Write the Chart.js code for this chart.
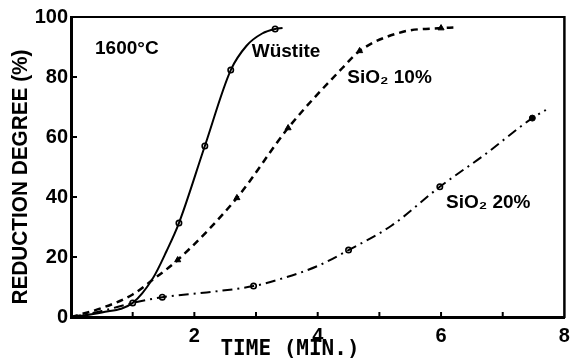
<!DOCTYPE html>
<html>
<head>
<meta charset="utf-8">
<script src="https://cdn.jsdelivr.net/npm/chart.js@4"></script>
<style>
html,body{margin:0;padding:0;background:#fff;}
#wrap{width:570px;height:362px;}
</style>
</head>
<body>
<div id="wrap"><canvas id="c" width="570" height="362"></canvas></div>
<script>
// ---- Data ----
const xTickLabels = [2, 4, 6, 8];
const yTickLabels = [0, 20, 40, 60, 80, 100];

// Wüstite (solid line, open circles)
const wusCurveX = [0, 0.5, 1.0, 1.33, 1.55, 1.75, 2.17, 2.59, 2.85, 3.1, 3.31, 3.43];
const wusCurveY = [0, 1.5, 4.7, 13, 22, 31.3, 57, 82.3, 90.5, 94.5, 96, 96.3];
const wusPtsX = [1.0, 1.75, 2.17, 2.59, 3.31];
const wusPtsY = [4.7, 31.3, 57, 82.3, 96];

// SiO2 10% (dashed line, filled triangles)
const s10CurveX = [0, 0.5, 1.0, 1.33, 1.73, 2.69, 3.52, 4.4, 4.68, 5.37, 6.0, 6.2];
const s10CurveY = [0, 3, 7.5, 12.5, 19, 39.7, 63, 83, 88.7, 95, 96.3, 96.5];
const s10PtsX = [1.73, 2.69, 3.52, 4.68, 6.0];
const s10PtsY = [19, 39.7, 63, 88.7, 96.3];

// SiO2 20% (dash-dot line, open circles, last one filled)
const s20CurveX = [0, 0.5, 1.0, 1.48, 2.2, 2.96, 3.4, 4.0, 4.5, 5.2, 5.98, 6.7, 7.48, 7.7];
const s20CurveY = [0, 2, 4.7, 6.6, 8.2, 10.3, 12.7, 17, 22.3, 30.5, 43.4, 54, 66.3, 69];
const s20PtsX = [1.48, 2.96, 4.5, 5.98];
const s20PtsY = [6.6, 10.3, 22.3, 43.4];
const s20FilledX = [7.48];
const s20FilledY = [66.3];

// Annotations (text, data x of left edge, data y of centre)
const noteText = ["1600°C", "Wüstite", "SiO₂ 10%", "SiO₂ 20%"];
const noteX = [0.39, 2.93, 4.48, 6.08];
const noteY = [89.3, 88.3, 79.7, 38];

const xTitle = "TIME (MIN.)";
const yTitle = "REDUCTION DEGREE (%)";

function pts(xs, ys){ return xs.map((x,i)=>({x:x, y:ys[i]})); }

const FONT = "'Liberation Sans', Arial, sans-serif";

const decor = {
  id: 'decor',
  afterDraw(chart){
    const ctx = chart.ctx, a = chart.chartArea;
    const xs = chart.scales.x, ys = chart.scales.y;
    ctx.save();
    ctx.strokeStyle = '#000';
    // frame top and right
    ctx.lineWidth = 2;
    ctx.beginPath(); ctx.moveTo(a.left, a.top); ctx.lineTo(a.right, a.top); ctx.stroke();
    ctx.lineWidth = 2.5;
    ctx.beginPath(); ctx.moveTo(a.right, a.top-1); ctx.lineTo(a.right, a.bottom+1); ctx.stroke();
    // inward ticks
    ctx.lineWidth = 2;
    for (let v = 1; v < 8; v++){
      const px = xs.getPixelForValue(v);
      ctx.beginPath(); ctx.moveTo(px, a.bottom); ctx.lineTo(px, a.bottom-5); ctx.stroke();
    }
    for (let v = 20; v < 100; v += 20){
      const py = ys.getPixelForValue(v);
      ctx.beginPath(); ctx.moveTo(a.left, py); ctx.lineTo(a.left+6, py); ctx.stroke();
    }
    // annotations
    ctx.fillStyle = '#000';
    ctx.font = "bold 19px " + FONT;
    ctx.textAlign = 'left'; ctx.textBaseline = 'middle';
    noteText.forEach((t,i)=>{
      ctx.fillText(t, xs.getPixelForValue(noteX[i]), ys.getPixelForValue(noteY[i]));
    });
    // x title
    ctx.font = "bold 21px 'DejaVu Sans Mono', monospace";
    ctx.textAlign = 'center';
    ctx.fillText(xTitle, 290, 350);
    // y title (condensed)
    ctx.font = "bold 22px " + FONT;
    const w = ctx.measureText(yTitle).width;
    ctx.translate(21, 177);
    ctx.rotate(-Math.PI/2);
    ctx.scale(255 / w, 1);
    ctx.fillText(yTitle, 0, 0);
    ctx.restore();
  }
};

new Chart(document.getElementById('c'), {
  type: 'line',
  data: {
    datasets: [
      { data: pts(wusCurveX, wusCurveY), borderColor:'#000', borderWidth:2, pointRadius:0, cubicInterpolationMode:'monotone', fill:false },
      { data: pts(s10CurveX, s10CurveY), borderColor:'#000', borderWidth:2.5, borderDash:[7,5], pointRadius:0, cubicInterpolationMode:'monotone', fill:false },
      { data: pts(s20CurveX, s20CurveY), borderColor:'#000', borderWidth:2, borderDash:[10,5,2,5], pointRadius:0, cubicInterpolationMode:'monotone', fill:false },
      { data: pts(wusPtsX, wusPtsY), showLine:false, pointStyle:'circle', pointRadius:2.7, pointBorderWidth:1.6, pointBorderColor:'#000', pointBackgroundColor:'#fff' },
      { data: pts(s10PtsX, s10PtsY), showLine:false, pointStyle:'triangle', pointRadius:3.5, pointBorderWidth:1, pointBorderColor:'#000', pointBackgroundColor:'#000' },
      { data: pts(s20PtsX, s20PtsY), showLine:false, pointStyle:'circle', pointRadius:2.7, pointBorderWidth:1.6, pointBorderColor:'#000', pointBackgroundColor:'#fff' },
      { data: pts(s20FilledX, s20FilledY), showLine:false, pointStyle:'circle', pointRadius:3, pointBorderWidth:1, pointBorderColor:'#000', pointBackgroundColor:'#000' }
    ]
  },
  options: {
    responsive:false, animation:false, devicePixelRatio:1,
    layout:{ padding:{ top:17, right:5, left:0, bottom:0 } },
    plugins:{ legend:{display:false}, tooltip:{enabled:false}, title:{display:false} },
    scales:{
      x:{
        type:'linear', min:0, max:8,
        grid:{ display:false, drawTicks:false },
        border:{ display:true, color:'#000', width:3 },
        ticks:{ stepSize:1, padding:7, color:'#000', font:{ family:FONT, size:20, weight:'bold' },
          callback:(v)=> xTickLabels.includes(v) ? String(v) : '' , maxRotation:0, autoSkip:false },
        afterFit:(s)=>{ s.height = 45; s.paddingLeft = 0; s.paddingRight = 0; }
      },
      y:{
        type:'linear', min:0, max:100,
        grid:{ display:false, drawTicks:false },
        border:{ display:true, color:'#000', width:3 },
        ticks:{ stepSize:20, padding:3, color:'#000', font:{ family:FONT, size:20, weight:'bold' },
          callback:(v)=> yTickLabels.includes(v) ? String(v) : '' },
        afterFit:(s)=>{ s.width = 71; s.paddingTop = 0; s.paddingBottom = 0; }
      }
    }
  },
  plugins:[decor]
});
</script>
</body>
</html>
